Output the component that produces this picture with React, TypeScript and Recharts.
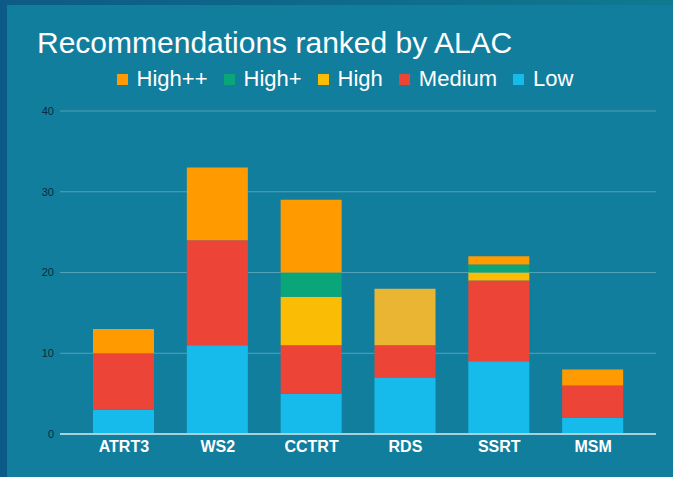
import { BarChart, Bar, XAxis, YAxis, CartesianGrid, Legend, Cell } from 'recharts';

const categories = ['ATRT3', 'WS2', 'CCTRT', 'RDS', 'SSRT', 'MSM'];
const low = [3, 11, 5, 7, 9, 2];
const medium = [7, 13, 6, 4, 10, 4];
const high = [0, 0, 6, 7, 1, 0];
const highPlus = [0, 0, 3, 0, 1, 0];
const highPlusPlus = [3, 9, 9, 0, 1, 2];
const yTicks = [0, 10, 20, 30, 40];

// stacking order bottom -> top
const series = [
  { key: 'low', name: 'Low', color: '#17bbeb', values: low },
  { key: 'medium', name: 'Medium', color: '#ec4537', values: medium },
  { key: 'high', name: 'High', color: '#fbbc05', values: high },
  { key: 'highPlus', name: 'High+', color: '#0aa679', values: highPlus },
  { key: 'highPlusPlus', name: 'High++', color: '#ff9a00', values: highPlusPlus },
];

// RDS "High" segment is drawn in a muted yellow in the original
const highOverride: Record<string, string> = { RDS: '#eab532' };

const data = categories.map((name, i) => {
  const row: Record<string, string | number> = { name };
  series.forEach((s) => { row[s.key] = s.values[i]; });
  return row;
});

const font = '"Liberation Sans", Arial, sans-serif';

function LegendContent() {
  return (
    <div style={{ display: 'flex', justifyContent: 'center', alignItems: 'center', fontFamily: font, fontSize: 22, lineHeight: '22px', color: '#fff' }}>
      {[...series].reverse().map((s) => (
        <div key={s.key} style={{ display: 'flex', alignItems: 'center', margin: '0 8px' }}>
          <span style={{ width: 11, height: 11, background: s.color, marginRight: 9, marginTop: 1 }} />
          <span>{s.name}</span>
        </div>
      ))}
    </div>
  );
}

export default function App() {
  return (
    <div style={{ position: 'fixed', left: 0, top: 0, width: 673, height: 477, background: '#0c5a87', overflow: 'hidden' }}>
      <div style={{ position: 'absolute', left: 0, top: 0, width: 673, height: 5, background: 'linear-gradient(90deg, #0d5a87, #0f7a8f)' }} />
      <div style={{ position: 'absolute', left: 7, top: 5, width: 666, height: 472, background: '#127e9e' }} />
      <div style={{ position: 'absolute', left: 37, top: 28, fontFamily: font, fontSize: 30, lineHeight: '30px', color: '#fff', whiteSpace: 'nowrap' }}>
        Recommendations ranked by ALAC
      </div>
      <div style={{ position: 'absolute', left: 0, top: 0 }}>
        <BarChart width={673} height={477} data={data} margin={{ top: 111, right: 17, bottom: 13, left: 0 }}>
          <CartesianGrid vertical={false} stroke="rgba(255,255,255,0.28)" />
          <XAxis
            dataKey="name"
            padding={{ left: 17, right: 16 }}
            height={30}
            tickLine={false}
            tickSize={6}
            tickMargin={1}
            axisLine={{ stroke: '#a8cfdc', strokeWidth: 2 }}
            tick={{ fill: '#ffffff', fontSize: 16, fontWeight: 700, fontFamily: font }}
          />
          <YAxis
            width={60}
            domain={[0, 40]}
            ticks={yTicks}
            tickLine={false}
            axisLine={false}
            tickSize={6}
            tickMargin={0}
            tick={{ fill: '#0b2a3c', fontSize: 11, fontFamily: font }}
          />
          <Legend verticalAlign="middle" layout="horizontal" align="center" wrapperStyle={{ top: 68, left: 0, width: 690 }} content={() => <LegendContent />} />
          {series.map((s) => (
            <Bar key={s.key} dataKey={s.key} name={s.name} stackId="a" fill={s.color} barSize={61} isAnimationActive={false}>
              {s.key === 'high' &&
                categories.map((c) => <Cell key={c} fill={highOverride[c] ?? s.color} />)}
            </Bar>
          ))}
        </BarChart>
      </div>
    </div>
  );
}
